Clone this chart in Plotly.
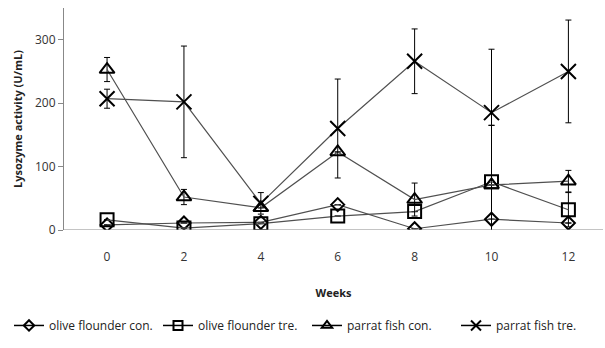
import plotly.graph_objects as go

weeks = [0, 2, 4, 6, 8, 10, 12]

olive_con = [8, 11, 12, 40, 2, 17, 11]
olive_tre = [16, 3, 10, 22, 29, 76, 32]
parrat_con = [253, 52, 35, 123, 48, 71, 77]
parrat_tre = [207, 202, 42, 160, 266, 185, 250]

olive_con_err = [0, 0, 0, 0, 0, 0, 0]
olive_tre_err = [0, 0, 0, 0, 0, 89, 27]
parrat_con_err = [19, 12, 0, 0, 26, 0, 17]
parrat_tre_err_up = [15, 88, 17, 78, 51, 100, 81]
parrat_tre_err_down = [15, 88, 17, 78, 51, 20, 81]

names = ["olive flounder con.", "olive flounder tre.", "parrat fish con.", "parrat fish tre."]
symbols = ["diamond-open", "square-open", "triangle-up-open", "x-thin-open"]
sizes = [10, 13, 13, 15]
legend_sizes = [8, 9, 9, 10]

series = [
    (olive_con, olive_con_err, olive_con_err),
    (olive_tre, olive_tre_err, olive_tre_err),
    (parrat_con, parrat_con_err, parrat_con_err),
    (parrat_tre, parrat_tre_err_up, parrat_tre_err_down),
]

fig = go.Figure()
for (vals, up, down), name, sym, sz in zip(series, names, symbols, sizes):
    fig.add_trace(go.Scatter(
        x=weeks, y=vals, name=name, mode="lines+markers", showlegend=False,
        line=dict(color="#505050", width=1.2),
        marker=dict(symbol=sym, size=sz, color="black",
                    line=dict(color="black", width=2)),
        error_y=dict(type="data", array=up, arrayminus=down, symmetric=False,
                     color="black", thickness=1, width=3),
    ))

# compact legend entries (smaller glyphs than the plotted markers)
for name, sym, lsz in zip(names, symbols, legend_sizes):
    fig.add_trace(go.Scatter(
        x=[None], y=[None], name=name, mode="lines+markers",
        line=dict(color="black", width=1.5),
        marker=dict(symbol=sym, size=lsz, color="black",
                    line=dict(color="black", width=2)),
    ))

fig.update_layout(
    width=605, height=348,
    margin=dict(l=64, r=2, t=8, b=118),
    paper_bgcolor="white", plot_bgcolor="white",
    font=dict(family="Open Sans, DejaVu Sans, sans-serif", color="#222"),
    showlegend=True,
    legend=dict(orientation="h", xref="paper", yref="paper",
                x=-0.085, xanchor="left", y=-0.43, yanchor="middle",
                font=dict(size=12, color="#222"), itemwidth=30,
                entrywidth=104, entrywidthmode="pixels",
                tracegroupgap=0),
    xaxis=dict(range=[-1.12, 12.9], tickvals=weeks,
               ticktext=[str(w) for w in weeks],
               showgrid=False, zeroline=False, showline=False,
               ticks="", ticklabelstandoff=18,
               tickfont=dict(size=12, color="#333"),
               title=dict(text="<b>Weeks</b>", font=dict(size=11, color="#222"),
                          standoff=25)),
    yaxis=dict(range=[0, 350], tickvals=[0, 100, 200, 300],
               showgrid=False, zeroline=False, showline=True,
               linecolor="#888", linewidth=1, ticks="outside", ticklen=5,
               tickcolor="#888", tickfont=dict(size=12, color="#333"),
               title=dict(text="<b>Lysozyme activity (U/mL)</b>",
                          font=dict(size=11, color="#222"), standoff=10)),
    shapes=[dict(type="line", xref="paper", yref="y", x0=0, x1=1, y0=0, y1=0,
                 line=dict(color="#888", width=1))],
)

fig.write_html("out.html")
